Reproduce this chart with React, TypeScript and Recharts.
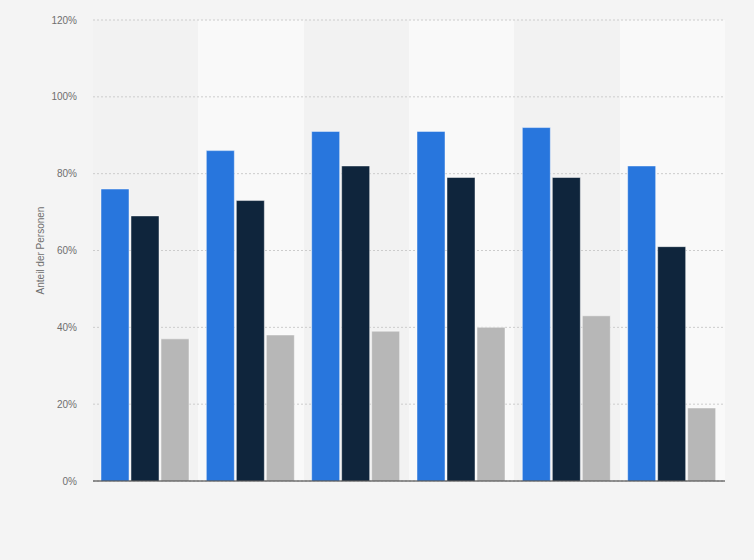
import React from "react";
import {
  BarChart,
  Bar,
  XAxis,
  YAxis,
  CartesianGrid,
  Label,
} from "recharts";

const categories = ["Gruppe 1", "Gruppe 2", "Gruppe 3", "Gruppe 4", "Gruppe 5", "Gruppe 6"];
const seriesA = [76, 86, 91, 91, 92, 82];
const seriesB = [69, 73, 82, 79, 79, 61];
const seriesC = [37, 38, 39, 40, 43, 19];
const yTicks = [0, 20, 40, 60, 80, 100, 120];

const data = categories.map((c, i) => ({
  name: c,
  a: seriesA[i],
  b: seriesB[i],
  c: seriesC[i],
}));

const FONT = "'Liberation Sans', Arial, sans-serif";

const bandEdges = ({ offset }: any) =>
  categories.map((_, i) => offset.left + (i * offset.width) / categories.length);

const noLine = (p: any) => <g key={p && p.key} />;

export default function App() {
  return (
    <div
      style={{
        position: "absolute",
        left: 0,
        top: 0,
        width: 754,
        height: 560,
        background: "#f4f4f4",
      }}
    >
      <BarChart
        width={754}
        height={560}
        data={data}
        margin={{ top: 20, right: 29, left: 0, bottom: 49 }}
        barGap={2}
        barCategoryGap={8}
      >
        <CartesianGrid
          vertical={noLine as any}
          verticalCoordinatesGenerator={bandEdges}
          verticalFill={["#f2f2f2", "#f9f9f9"]}
          fillOpacity={1}
          stroke="#cccccc"
          strokeDasharray="2 2"
        />
        <XAxis
          dataKey="name"
          tick={false}
          tickLine={false}
          height={30}
          axisLine={{ stroke: "#333333", strokeWidth: 1 }}
        />
        <YAxis
          width={93}
          domain={[0, 120]}
          ticks={yTicks}
          interval={0}
          tickFormatter={(v: number) => `${v}%`}
          tickLine={false}
          axisLine={false}
          tickSize={0}
          tickMargin={16}
          tick={{ fill: "#6f6f6f", fontSize: 10, fontFamily: FONT }}
        >
          <Label
            value="Anteil der Personen"
            angle={-90}
            position="insideLeft"
            offset={0}
            content={(props: any) => {
              const vb = props.viewBox || {};
              const cy = vb.y + vb.height / 2;
              return (
                <text
                  x={40}
                  y={cy}
                  transform={`rotate(-90, 40, ${cy})`}
                  textAnchor="middle"
                  dominantBaseline="central"
                  fill="#6f6f6f"
                  fontSize={10}
                  fontFamily={FONT}
                >
                  Anteil der Personen
                </text>
              );
            }}
          />
        </YAxis>
        <Bar
          dataKey="a"
          fill="#2876dd"
          stroke="rgba(255,255,255,0.45)"
          strokeWidth={1}
          isAnimationActive={false}
        />
        <Bar
          dataKey="b"
          fill="#0f253c"
          stroke="rgba(255,255,255,0.45)"
          strokeWidth={1}
          isAnimationActive={false}
        />
        <Bar
          dataKey="c"
          fill="#b7b7b7"
          stroke="rgba(255,255,255,0.45)"
          strokeWidth={1}
          isAnimationActive={false}
        />
      </BarChart>
    </div>
  );
}
